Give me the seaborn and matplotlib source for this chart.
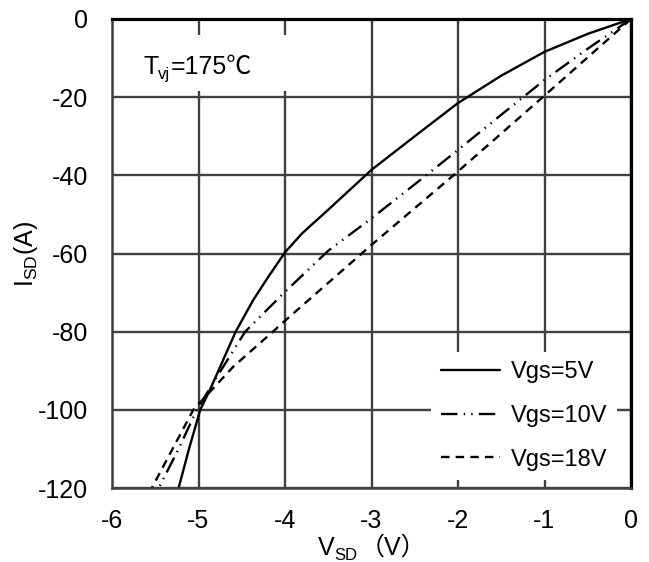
import matplotlib
matplotlib.use("Agg")
import matplotlib.pyplot as plt
import seaborn as sns
import pandas as pd
from matplotlib.patches import Rectangle
from matplotlib.lines import Line2D

# Reverse conduction curves at Tvj = 175 °C
vsd_5v = [0, -0.5, -1.0, -1.5, -2.0, -2.5, -3.0, -3.5, -3.8, -4.0, -4.2, -4.37, -4.57, -4.87, -4.98, -5.11, -5.23]
isd_5v = [0, -3.8, -8.4, -14.5, -21.5, -30.0, -38.6, -48.8, -54.8, -59.7, -66.2, -72.0, -80.0, -95.0, -100.0, -110.0, -120.0]

vsd_10v = [0, -0.5, -1.0, -1.5, -2.0, -2.5, -3.0, -3.5, -4.0, -4.46, -4.8, -5.02, -5.23, -5.46]
isd_10v = [0, -7.6, -15.6, -24.5, -33.5, -42.3, -51.0, -59.3, -69.8, -80.0, -92.0, -100.0, -110.0, -120.0]

vsd_18v = [0, -0.5, -1.0, -1.5, -2.0, -2.5, -3.0, -3.5, -4.0, -4.14, -4.6, -5.06, -5.3, -5.54]
isd_18v = [0, -9.8, -19.6, -29.3, -39.0, -48.4, -57.8, -67.5, -77.2, -80.0, -89.0, -100.0, -110.0, -120.0]

series_names = ["Vgs=5V", "Vgs=10V", "Vgs=18V"]
x_ticks = [-6, -5, -4, -3, -2, -1, 0]
y_ticks = [-120, -100, -80, -60, -40, -20, 0]

frames = []
for name, xs, ys in zip(series_names, [vsd_5v, vsd_10v, vsd_18v], [isd_5v, isd_10v, isd_18v]):
    frames.append(pd.DataFrame({"VSD": xs, "ISD": ys, "series": name}))
df = pd.concat(frames, ignore_index=True)

sns.set_theme(style="white")
latin = "Liberation Sans"
mixed = ["Liberation Sans", "Noto Sans CJK SC", "DejaVu Sans"]
plt.rcParams["font.family"] = mixed
plt.rcParams["text.color"] = "black"
plt.rcParams["axes.labelcolor"] = "black"
plt.rcParams["mathtext.fontset"] = "custom"
plt.rcParams["mathtext.rm"] = latin
plt.rcParams["mathtext.it"] = latin

fig = plt.figure(figsize=(6.49, 5.62), dpi=100)
ax = fig.add_axes([112 / 649, 1 - 488 / 562, 519 / 649, 469 / 562])

lw = 1.7
dash_styles = {
    "Vgs=5V": "",
    "Vgs=10V": (7, 2.6, 0.6, 2.6, 0.6, 2.6),
    "Vgs=18V": (3.6, 2.6),
}
sns.lineplot(data=df, x="VSD", y="ISD", hue="series", style="series",
             palette=["black"] * 3, dashes=dash_styles, linewidth=lw,
             sort=False, estimator=None, ax=ax, legend=False, zorder=3)

ax.set_xlim(-6, 0)
ax.set_ylim(-120, 0)
ax.set_xticks(x_ticks)
ax.set_yticks(y_ticks)
ax.set_xticklabels([str(t) for t in x_ticks])
ax.set_yticklabels([str(t) for t in y_ticks])
ax.tick_params(axis="both", length=0, labelsize=18, colors="black")
ax.tick_params(axis="x", pad=15)
ax.tick_params(axis="y", pad=17)

ax.grid(True, color="#404040", linewidth=1.7)
ax.set_axisbelow(True)
for side in ["left", "bottom"]:
    ax.spines[side].set_color("#404040")
    ax.spines[side].set_linewidth(1.8)
for side in ["top", "right"]:
    ax.spines[side].set_color("black")
    ax.spines[side].set_linewidth(2.3)
for sp in ax.spines.values():
    sp.set_zorder(4)

ax.set_xlabel("")
ax.set_ylabel("I$_{\\mathregular{SD}}$(A)", fontsize=18, labelpad=-1, color="black")

# x-axis title built from pieces so the subscript and full-width brackets both render
xl_main = fig.text(318 / 649, 1 - 555 / 562, "V", fontsize=18, family=latin,
                   va="baseline", ha="left", color="black")
xl_sub = ax.annotate("SD", xy=(1, 0), xycoords=xl_main, fontsize=12, family=latin,
                     va="baseline", ha="left", color="black")
ax.annotate("（V）", xy=(1, 0), xycoords=(xl_sub, xl_main), xytext=(1.5, 3.8),
            textcoords="offset points", fontsize=18, family=mixed,
            va="baseline", ha="left", color="black")

# white panel behind the temperature note
ax.add_patch(Rectangle((0.006, 0.846), 0.39, 0.12, transform=ax.transAxes,
                       facecolor="white", edgecolor="none", zorder=2))
t_main = ax.text((143 - 112) / 519, 1 - (74 - 19) / 469, "T", transform=ax.transAxes,
                 fontsize=18, family=latin, va="baseline", ha="left", zorder=5,
                 color="black")
t_sub = ax.annotate("vj", xy=(1, 0), xycoords=t_main, fontsize=12, family=latin,
                    va="baseline", ha="left", zorder=5, color="black")
ax.annotate("=175℃", xy=(1, 0), xycoords=(t_sub, t_main), xytext=(0, 3.8),
            textcoords="offset points", fontsize=18, family=mixed,
            va="baseline", ha="left", zorder=5, color="black")

handles = []
for name in series_names:
    h = Line2D([], [], color="black", linewidth=lw)
    if dash_styles[name]:
        h.set_dashes(dash_styles[name])
    handles.append(h)
leg = ax.legend(handles, series_names, loc="lower right",
                bbox_to_anchor=((617 - 112) / 519, (488 - 480) / 469),
                prop={"family": latin, "size": 17},
                frameon=True, fancybox=False, framealpha=1, facecolor="white",
                edgecolor="none", handlelength=2.5, handletextpad=0.47,
                labelspacing=0.92, borderaxespad=0, borderpad=0.4)
for txt in leg.get_texts():
    txt.set_color("black")
leg.set_zorder(5)

fig.savefig("out.png", dpi=100)
